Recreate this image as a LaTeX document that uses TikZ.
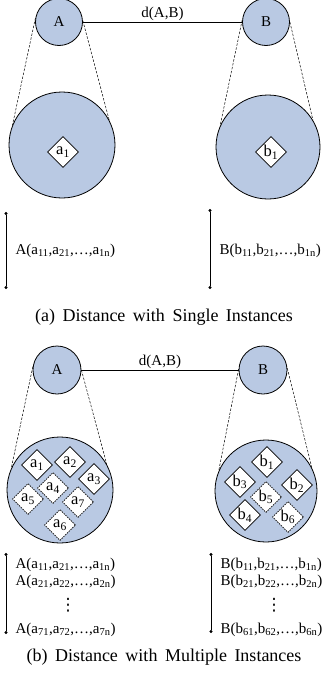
\documentclass[tikz,border=0pt]{standalone}
\usepackage{fontspec}
\setmainfont{Liberation Serif}
\newfontfamily\dotsfont{DejaVu Sans}
\usetikzlibrary{shapes.geometric,arrows.meta}
\definecolor{bagblue}{RGB}{185,201,227}
\tikzset{
  bag/.style={circle,draw,fill=bagblue,inner sep=0pt,line width=0.8pt},
  inst/.style={diamond,draw,fill=white,inner sep=0pt,minimum size=31pt,line width=0.7pt,font=\fontsize{16.5}{18}\selectfont},
  instd/.style={inst,dash pattern=on 1.5pt off 1pt},
  zoomline/.style={dash pattern=on 2.5pt off 1.5pt,line width=0.5pt},
  vec/.style={line width=0.9pt,{Circle[length=3pt]}-{Circle[length=3pt]}},
  capt/.style={font=\fontsize{18}{21}\selectfont},
  vdotsnode/.style={inner sep=0pt,font=\dotsfont\fontsize{17}{18}\selectfont}
}
\begin{document}
\begin{tikzpicture}[x=1pt,y=-1pt,every node/.style={font=\fontsize{15}{18}\selectfont}]
\useasboundingbox (0,0) rectangle (327,680);
% (a) single instances
\node[bag,minimum size=47pt] (A1) at (59,22) {A};
\node[bag,minimum size=47pt] (B1) at (266,22) {B};
\draw[line width=0.8pt] (A1) -- node[above=-2pt] (d1) {d(A,B)} (B1);
\node[bag,minimum size=106pt] (A1big) at (62,145) {};
\node[bag,minimum size=104pt] (B1big) at (268,147) {};
\draw[zoomline] (A1.170) -- (A1big.158) (A1.3) -- (A1big.28);
\draw[zoomline] (B1.175) -- (B1big.156) (B1.0) -- (B1big.31);
\node[inst] (sa) at (63,152) {a\textsubscript{1}};
\node[inst] (sb) at (271,152) {b\textsubscript{1}};
\coordinate (satop) at (6,212); \coordinate (sabot) at (6,289);
\coordinate (sbtop) at (210,209); \coordinate (sbbot) at (210,289);
\draw[vec] (satop) -- (sabot);
\draw[vec] (sbtop) -- (sbbot);
\node[anchor=west] (sav) at (12,251) {A(a\textsubscript{11},a\textsubscript{21},\ldots,a\textsubscript{1n})};
\node[anchor=west] (sbv) at (216,251) {B(b\textsubscript{11},b\textsubscript{21},\ldots,b\textsubscript{1n})};
\node[capt] (capa) at (164,317) {\spaceskip=7.5pt\relax (a) Distance with Single Instances};
% (b) multiple instances
\node[bag,minimum size=48pt] (A2) at (57,370) {A};
\node[bag,minimum size=48pt] (B2) at (263,370) {B};
\draw[line width=0.8pt] (A2) -- node[above=-2pt] (d2) {d(A,B)} (B2);
\node[bag,minimum size=106pt] (A2big) at (60,490) {};
\node[bag,minimum size=102pt] (B2big) at (266,491) {};
\draw[zoomline] (A2.172) -- (A2big.156) (A2.0) -- (A2big.29);
\draw[zoomline] (B2.178) -- (B2big.157) (B2.4) -- (B2big.27);
\foreach \n/\x/\y in {1/37/465,2/70/462,3/94/479}
  \node[inst] (ma\n) at (\x,\y) {a\textsubscript{\n}};
\foreach \n/\x/\y in {4/53/488,5/28/499,7/78/502,6/60/525}
  \node[instd] (ma\n) at (\x,\y) {a\textsubscript{\n}};
\foreach \n/\x/\y in {1/267/462,3/240/482,2/297/485,4/245/515}
  \node[inst] (mb\n) at (\x,\y) {b\textsubscript{\n}};
\foreach \n/\x/\y in {5/266/497,6/288/517}
  \node[instd] (mb\n) at (\x,\y) {b\textsubscript{\n}};
\coordinate (matop) at (6,553); \coordinate (mabot) at (6,634);
\coordinate (mbtop) at (211,553); \coordinate (mbbot) at (211,633);
\draw[vec] (matop) -- (mabot);
\draw[vec] (mbtop) -- (mbbot);
\node[anchor=west] (mav1) at (12,565) {A(a\textsubscript{11},a\textsubscript{21},\ldots,a\textsubscript{1n})};
\node[anchor=west] (mav2) at (12,582) {A(a\textsubscript{21},a\textsubscript{22},\ldots,a\textsubscript{2n})};
\node[anchor=west] (mav7) at (12,630) {A(a\textsubscript{71},a\textsubscript{72},\ldots,a\textsubscript{7n})};
\node[anchor=west] (mbv1) at (217,565) {B(b\textsubscript{11},b\textsubscript{21},\ldots,b\textsubscript{1n})};
\node[anchor=west] (mbv2) at (217,582) {B(b\textsubscript{21},b\textsubscript{22},\ldots,b\textsubscript{2n})};
\node[anchor=west] (mbv6) at (217,630) {B(b\textsubscript{61},b\textsubscript{62},\ldots,b\textsubscript{6n})};
\node[vdotsnode] (madots) at (68,605) {⋮};
\node[vdotsnode] (mbdots) at (274,605) {⋮};
\node[capt] (capb) at (164,657) {\spaceskip=7.5pt\relax (b) Distance with Multiple Instances};
\end{tikzpicture}
\end{document}
